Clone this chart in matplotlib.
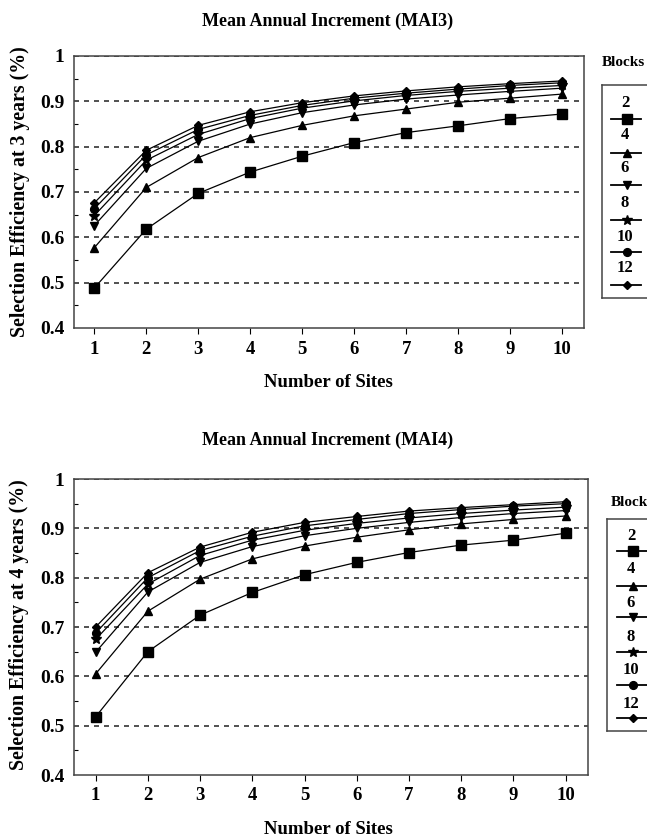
import numpy as np
import matplotlib
matplotlib.use("Agg")
import matplotlib.pyplot as plt
from matplotlib.lines import Line2D

plt.rcParams["font.family"] = ["Liberation Serif", "DejaVu Serif"]
plt.rcParams["font.weight"] = "bold"

sites = [1, 2, 3, 4, 5, 6, 7, 8, 9, 10]
blocks = ["2", "4", "6", "8", "10", "12"]

# selection efficiency at 3 years, one list per number of blocks
mai3_b2 = [0.488, 0.618, 0.697, 0.744, 0.779, 0.809, 0.831, 0.846, 0.862, 0.872]
mai3_b4 = [0.577, 0.710, 0.776, 0.820, 0.847, 0.868, 0.883, 0.898, 0.907, 0.916]
mai3_b6 = [0.626, 0.752, 0.812, 0.850, 0.875, 0.892, 0.905, 0.914, 0.922, 0.929]
mai3_b8 = [0.648, 0.770, 0.827, 0.862, 0.885, 0.901, 0.913, 0.922, 0.929, 0.935]
mai3_b10 = [0.663, 0.782, 0.838, 0.869, 0.891, 0.907, 0.918, 0.927, 0.935, 0.941]
mai3_b12 = [0.676, 0.792, 0.847, 0.877, 0.897, 0.912, 0.923, 0.932, 0.939, 0.945]

# selection efficiency at 4 years
mai4_b2 = [0.518, 0.650, 0.724, 0.770, 0.806, 0.831, 0.851, 0.866, 0.876, 0.890]
mai4_b4 = [0.605, 0.732, 0.797, 0.838, 0.864, 0.882, 0.897, 0.909, 0.918, 0.925]
mai4_b6 = [0.649, 0.771, 0.831, 0.863, 0.885, 0.900, 0.912, 0.922, 0.930, 0.936]
mai4_b8 = [0.675, 0.787, 0.845, 0.876, 0.896, 0.910, 0.921, 0.930, 0.937, 0.943]
mai4_b10 = [0.688, 0.800, 0.855, 0.884, 0.905, 0.918, 0.930, 0.938, 0.945, 0.950]
mai4_b12 = [0.700, 0.810, 0.862, 0.892, 0.912, 0.924, 0.935, 0.942, 0.948, 0.954]

mai3 = [mai3_b2, mai3_b4, mai3_b6, mai3_b8, mai3_b10, mai3_b12]
mai4 = [mai4_b2, mai4_b4, mai4_b6, mai4_b8, mai4_b10, mai4_b12]

MARKERS = [("s", 7.0), ("^", 6.2), ("v", 6.2), ("*", 7.8), ("o", 5.6), ("D", 4.0)]
W, H = 647, 840


def px_axes(fig, left, top, right, bottom):
    return fig.add_axes([left / W, 1 - bottom / H, (right - left) / W, (bottom - top) / H])


def draw_panel(fig, box, xlim, series, title, ylabel, title_y, xlabel_y, ylabel_x, ylabel_y):
    ax = px_axes(fig, *box)
    for vals, (m, ms) in zip(series, MARKERS):
        ax.plot(sites, vals, color="black", lw=0.9, marker=m, ms=ms, mfc="black", mec="black", zorder=3)
    for yv in [0.5, 0.6, 0.7, 0.8, 0.9, 1.0]:
        ax.axhline(yv, color="#333333", lw=1.2, ls=(0, (3, 3)), zorder=1)
    ax.set_xlim(*xlim)
    ax.set_ylim(0.4, 1.0)
    ax.set_xticks(sites)
    ax.set_yticks([0.4, 0.5, 0.6, 0.7, 0.8, 0.9, 1.0])
    ax.set_yticklabels(["0.4", "0.5", "0.6", "0.7", "0.8", "0.9", "1"])
    ax.set_yticks(np.arange(0.45, 1.0, 0.1), minor=True)
    ax.tick_params(axis="x", direction="out", length=4, width=0.8, labelsize=13.5, pad=5)
    ax.tick_params(axis="y", which="major", direction="in", length=0, labelsize=14, pad=7)
    ax.tick_params(axis="y", which="minor", direction="in", length=3, width=0.8)
    for s in ax.spines.values():
        s.set_color("#444444")
        s.set_linewidth(1.1)
    fig.text(328 / W, 1 - title_y / H, title, ha="center", va="center", fontsize=13, fontweight="bold")
    fig.text(328 / W, 1 - xlabel_y / H, "Number of Sites", ha="center", va="center", fontsize=13.5,
             fontweight="bold")
    fig.text(ylabel_x / W, 1 - ylabel_y / H, ylabel, ha="center", va="center", rotation=90,
             fontsize=14.3, fontweight="bold")
    return ax


def draw_legend(fig, left, top, bottom, blocks_x, blocks_y, label_x, line_x0, line_x1, rows):
    right = 662
    lax = px_axes(fig, left, top, right, bottom)
    lax.set_xlim(left, right)
    lax.set_ylim(bottom, top)
    lax.set_xticks([])
    lax.set_yticks([])
    for s in lax.spines.values():
        s.set_color("#444444")
        s.set_linewidth(1.1)
    for name, (m, ms), (ty, ly) in zip(blocks, MARKERS, rows):
        lax.text(label_x, ty, name, ha="center", va="center", fontsize=12, fontweight="bold")
        lax.add_line(Line2D([line_x0, line_x1], [ly, ly], color="black", lw=1.3))
        lax.plot([label_x + 2], [ly], marker=m, ms=ms, color="black", ls="none")
    # the reference figure is cropped at the right, so this label runs off the edge there too
    fig.text(blocks_x / W, 1 - blocks_y / H, "Blocks", ha="left", va="center", fontsize=11,
             fontweight="bold")


fig = plt.figure(figsize=(W / 100, H / 100), dpi=100, facecolor="white")

draw_panel(fig, (74, 56, 584, 328), (0.61, 10.42), mai3, "Mean Annual Increment (MAI3)",
           "Selection Efficiency at 3 years (%)", 21, 383, 20, 192)
draw_panel(fig, (74, 479, 588, 775), (0.585, 10.43), mai4, "Mean Annual Increment (MAI4)",
           "Selection Efficiency at 4 years (%)", 440, 830, 19, 625)

draw_legend(fig, 602, 85, 298, 602, 63, 625, 611, 641,
            [(103, 119), (135, 153), (168, 185), (203, 220), (237, 252), (268, 285)])
draw_legend(fig, 607, 519, 731, 611, 502, 631, 617, 647,
            [(536, 551), (569, 586), (603, 617), (637, 652), (670, 685), (704, 718)])

plt.savefig("out.png", dpi=100, facecolor=fig.get_facecolor())
plt.close()
